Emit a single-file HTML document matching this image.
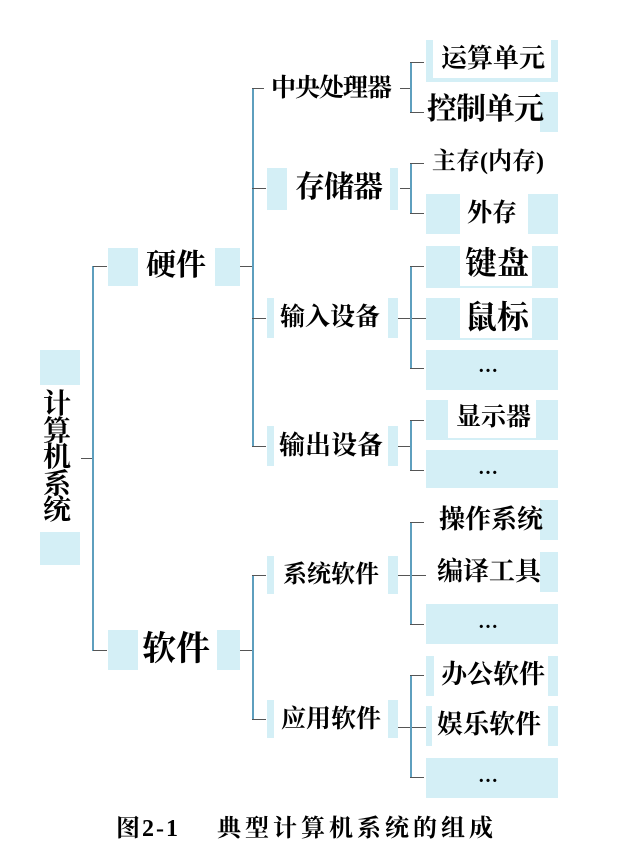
<!DOCTYPE html>
<html><head><meta charset="utf-8"><style>
*{margin:0;padding:0;box-sizing:border-box}
body{width:622px;height:868px;background:#fff;position:relative;overflow:hidden;font-family:"Liberation Serif","Noto Serif CJK SC",serif;font-weight:bold;color:#000}
.l{position:absolute;background:#5e9fbe}
.d{position:absolute;background:#555}
.p{position:absolute;background:#d4eff6}
.t{position:absolute;white-space:nowrap;text-align:center;line-height:1}
.w{position:absolute;background:#fff}
.e{position:absolute;font-size:20px;line-height:1;letter-spacing:1px}
</style></head><body>
<!-- root -->
<div class="p" style="left:40px;top:350px;width:40px;height:35px"></div>
<div class="p" style="left:40px;top:532px;width:40px;height:33px"></div>
<div class="t" style="left:42px;top:392px;width:30px;font-size:28px;line-height:26.5px;white-space:normal">计<br>算<br>机<br>系<br>统</div>
<div class="d" style="left:81px;top:458px;width:12px;height:1px"></div>
<div class="l" style="left:92px;top:266px;width:1.5px;height:385px"></div>
<div class="d" style="left:93px;top:266px;width:14px;height:1px"></div>
<div class="d" style="left:93px;top:650px;width:14px;height:1px"></div>
<!-- 硬件 / 软件 -->
<div class="p" style="left:108px;top:248px;width:30px;height:38px"></div>
<div class="p" style="left:215px;top:248px;width:25px;height:38px"></div>
<div class="t" style="left:146px;top:251px;font-size:30px">硬件</div>
<div class="p" style="left:108px;top:630px;width:30px;height:40px"></div>
<div class="p" style="left:217px;top:630px;width:23px;height:40px"></div>
<div class="t" style="left:142px;top:633px;font-size:34px">软件</div>
<div class="d" style="left:240px;top:266px;width:12px;height:1px"></div>
<div class="d" style="left:240px;top:650px;width:12px;height:1px"></div>
<div class="l" style="left:252px;top:88px;width:1.5px;height:358px"></div>
<div class="l" style="left:252px;top:575px;width:1.5px;height:145px"></div>
<div class="d" style="left:252px;top:88px;width:12px;height:1px"></div>
<div class="d" style="left:252px;top:188px;width:14px;height:1px"></div>
<div class="d" style="left:252px;top:318px;width:14px;height:1px"></div>
<div class="d" style="left:252px;top:446px;width:14px;height:1px"></div>
<div class="d" style="left:252px;top:575px;width:14px;height:1px"></div>
<div class="d" style="left:252px;top:719px;width:14px;height:1px"></div>
<!-- level 2 -->
<div class="t" style="left:271px;top:76px;font-size:25px;letter-spacing:-1px">中央处理器</div>
<div class="p" style="left:267px;top:168px;width:20px;height:42px"></div>
<div class="p" style="left:390px;top:168px;width:8px;height:42px"></div>
<div class="t" style="left:295px;top:173px;font-size:30px;letter-spacing:-1px">存储器</div>
<div class="p" style="left:267px;top:298px;width:7px;height:40px"></div>
<div class="p" style="left:388px;top:298px;width:10px;height:40px"></div>
<div class="t" style="left:280px;top:305px;font-size:25px">输入设备</div>
<div class="p" style="left:267px;top:426px;width:7px;height:40px"></div>
<div class="p" style="left:388px;top:426px;width:10px;height:40px"></div>
<div class="t" style="left:279px;top:433px;font-size:26px">输出设备</div>
<div class="p" style="left:267px;top:556px;width:7px;height:38px"></div>
<div class="p" style="left:388px;top:556px;width:10px;height:38px"></div>
<div class="t" style="left:283px;top:563px;font-size:24px">系统软件</div>
<div class="p" style="left:267px;top:700px;width:7px;height:38px"></div>
<div class="p" style="left:388px;top:700px;width:10px;height:38px"></div>
<div class="t" style="left:281px;top:707px;font-size:25px">应用软件</div>
<!-- connectors -->
<div class="d" style="left:400px;top:88px;width:10px;height:1px"></div>
<div class="l" style="left:410px;top:62px;width:1.5px;height:51px"></div>
<div class="d" style="left:410px;top:62px;width:14px;height:1px"></div>
<div class="d" style="left:410px;top:112px;width:14px;height:1px"></div>
<div class="d" style="left:400px;top:188px;width:10px;height:1px"></div>
<div class="l" style="left:410px;top:163px;width:1.5px;height:51px"></div>
<div class="d" style="left:410px;top:163px;width:14px;height:1px"></div>
<div class="d" style="left:410px;top:213px;width:14px;height:1px"></div>
<div class="d" style="left:398px;top:318px;width:28px;height:1px"></div>
<div class="l" style="left:410px;top:266px;width:1.5px;height:103px"></div>
<div class="d" style="left:410px;top:266px;width:14px;height:1px"></div>
<div class="d" style="left:410px;top:368px;width:14px;height:1px"></div>
<div class="d" style="left:398px;top:446px;width:12px;height:1px"></div>
<div class="l" style="left:410px;top:420px;width:1.5px;height:51px"></div>
<div class="d" style="left:410px;top:420px;width:14px;height:1px"></div>
<div class="d" style="left:410px;top:470px;width:14px;height:1px"></div>
<div class="d" style="left:398px;top:575px;width:28px;height:1px"></div>
<div class="l" style="left:410px;top:522px;width:1.5px;height:103px"></div>
<div class="d" style="left:410px;top:522px;width:14px;height:1px"></div>
<div class="d" style="left:410px;top:624px;width:14px;height:1px"></div>
<div class="d" style="left:398px;top:727px;width:28px;height:1px"></div>
<div class="l" style="left:410px;top:675px;width:1.5px;height:103px"></div>
<div class="d" style="left:410px;top:675px;width:14px;height:1px"></div>
<div class="d" style="left:410px;top:777px;width:14px;height:1px"></div>
<!-- leaves -->
<div class="p" style="left:426px;top:40px;width:132px;height:42px"></div>
<div class="w" style="left:433px;top:40px;width:118px;height:38px"></div>
<div class="t" style="left:441px;top:46px;font-size:26px">运算单元</div>
<div class="p" style="left:540px;top:92px;width:18px;height:40px"></div>
<div class="t" style="left:427px;top:95px;font-size:30px;letter-spacing:-1px">控制单元</div>
<div class="t" style="left:432px;top:150px;font-size:24px">主存(内存)</div>
<div class="p" style="left:426px;top:194px;width:132px;height:40px"></div>
<div class="w" style="left:460px;top:194px;width:68px;height:40px"></div>
<div class="t" style="left:467px;top:201px;font-size:25px">外存</div>
<div class="p" style="left:426px;top:246px;width:132px;height:42px"></div>
<div class="w" style="left:460px;top:246px;width:72px;height:40px"></div>
<div class="t" style="left:465px;top:247px;font-size:32px">键盘</div>
<div class="p" style="left:426px;top:298px;width:132px;height:42px"></div>
<div class="w" style="left:460px;top:298px;width:72px;height:40px"></div>
<div class="t" style="left:465px;top:301px;font-size:32px">鼠标</div>
<div class="p" style="left:426px;top:350px;width:132px;height:40px"></div>
<div class="e" style="left:478px;top:356px">…</div>
<div class="p" style="left:426px;top:400px;width:132px;height:40px"></div>
<div class="w" style="left:448px;top:400px;width:88px;height:38px"></div>
<div class="t" style="left:456px;top:405px;font-size:25px">显示器</div>
<div class="p" style="left:426px;top:450px;width:132px;height:38px"></div>
<div class="e" style="left:478px;top:458px">…</div>
<div class="p" style="left:540px;top:500px;width:18px;height:40px"></div>
<div class="t" style="left:439px;top:507px;font-size:26px">操作系统</div>
<div class="p" style="left:540px;top:552px;width:18px;height:40px"></div>
<div class="t" style="left:437px;top:559px;font-size:26px">编译工具</div>
<div class="p" style="left:426px;top:604px;width:132px;height:40px"></div>
<div class="e" style="left:478px;top:612px">…</div>
<div class="p" style="left:426px;top:656px;width:8px;height:40px"></div>
<div class="p" style="left:548px;top:656px;width:10px;height:40px"></div>
<div class="t" style="left:441px;top:662px;font-size:26px">办公软件</div>
<div class="p" style="left:426px;top:706px;width:6px;height:40px"></div>
<div class="p" style="left:548px;top:706px;width:10px;height:40px"></div>
<div class="t" style="left:437px;top:712px;font-size:26px">娱乐软件</div>
<div class="p" style="left:426px;top:758px;width:132px;height:40px"></div>
<div class="e" style="left:478px;top:766px">…</div>
<!-- caption -->
<div class="t" style="left:116px;top:817px;font-size:24px;letter-spacing:2px">图2-1</div>
<div class="t" style="left:217px;top:817px;font-size:24px;letter-spacing:4px">典型计算机系统的组成</div>
</body></html>
